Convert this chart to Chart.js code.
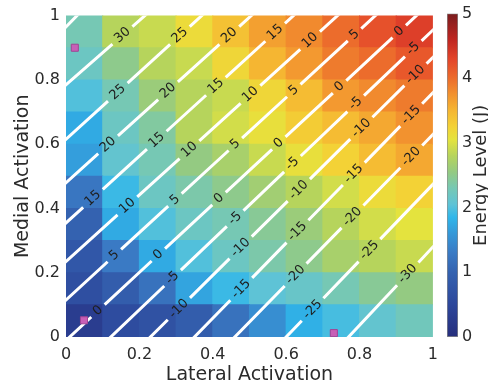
<!DOCTYPE html>
<html>
<head>
<meta charset="utf-8">
<script src="https://cdn.jsdelivr.net/npm/chart.js@4.4.1/dist/chart.umd.min.js"></script>
<style>
    html, body { margin: 0; padding: 0; background: #fff; }
    #wrap { position: relative; width: 488px; height: 388px; overflow: hidden; }
    #heat { position: absolute; left: 0; top: 0; }
    #bar { position: absolute; left: 440px; top: 0; }
</style>
</head>
<body>
<div id="wrap">
    <canvas id="heat" width="446" height="388"></canvas>
    <canvas id="bar" width="48" height="388"></canvas>
</div>
<script>
// Cell edges, 10 bins on each axis
const lateralEdges = [0, 0.1, 0.2, 0.3, 0.4, 0.5, 0.6, 0.7, 0.8, 0.9, 1];
const medialEdges = [0, 0.1, 0.2, 0.3, 0.4, 0.5, 0.6, 0.7, 0.8, 0.9, 1];

// Energy (J) per cell, bottom row first, left to right
const energy = [
    [0.30, 0.60, 0.70, 0.90, 1.20, 1.50, 1.80, 1.95, 2.10, 2.25],
    [0.65, 0.90, 1.20, 1.70, 1.90, 2.05, 2.15, 2.30, 2.45, 2.55],
    [0.80, 1.30, 1.75, 2.00, 2.20, 2.35, 2.50, 2.70, 2.80, 2.90],
    [1.00, 1.75, 2.00, 2.20, 2.30, 2.45, 2.60, 2.80, 2.95, 3.05],
    [1.25, 1.90, 2.20, 2.35, 2.50, 2.65, 2.80, 2.95, 3.15, 3.25],
    [1.65, 2.10, 2.30, 2.55, 2.70, 2.90, 3.10, 3.25, 3.45, 3.60],
    [1.75, 2.20, 2.40, 2.80, 2.95, 3.10, 3.30, 3.45, 3.60, 3.75],
    [2.00, 2.30, 2.60, 2.80, 2.90, 3.20, 3.45, 3.70, 3.80, 3.90],
    [2.20, 2.50, 2.80, 2.90, 3.20, 3.50, 3.70, 3.90, 4.00, 4.15],
    [2.30, 2.80, 2.90, 3.15, 3.40, 3.65, 3.80, 4.00, 4.20, 4.35]
];

// Contour lines: level, start and end point [lateral, medial]
const contourLevels = [35, 30, 25, 20, 15, 10, 5, 0, -5, -10, -15, -20, -25, -30];
const contourFrom = [[0, 0.965], [0, 0.785], [0, 0.615], [0, 0.48], [0, 0.355], [0, 0.235], [0, 0.115],
    [0.01, 0], [0.122, 0], [0.23, 0], [0.35, 0], [0.46, 0], [0.60, 0], [0.77, 0]];
const contourTo = [[0.03, 1], [0.215, 1], [0.37, 1], [0.505, 1], [0.62, 1], [0.74, 1], [0.843, 1],
    [0.955, 1], [1, 0.955], [1, 0.87], [1, 0.76], [1, 0.63], [1, 0.475], [1, 0.28]];

// Contour label positions
const labelLevel = [30, 25, 25, 20, 20, 20, 15, 15, 15, 15, 10, 10, 10, 10,
    5, 5, 5, 5, 5, 0, 0, 0, 0, 0, 0, -5, -5, -5, -5, -5,
    -10, -10, -10, -10, -10, -15, -15, -15, -15, -20, -20, -20, -25, -25, -30];
const labelLateral = [0.159, 0.308, 0.141, 0.443, 0.276, 0.114, 0.570, 0.403, 0.246, 0.073, 0.665, 0.497, 0.341, 0.168,
    0.786, 0.619, 0.462, 0.295, 0.132, 0.903, 0.741, 0.576, 0.416, 0.249, 0.086, 0.943, 0.803, 0.611, 0.465, 0.289,
    0.951, 0.822, 0.632, 0.476, 0.303, 0.938, 0.778, 0.624, 0.476, 0.935, 0.773, 0.619, 0.822, 0.668, 0.930];
const labelMedial = [0.932, 0.941, 0.762, 0.941, 0.769, 0.599, 0.948, 0.787, 0.614, 0.432, 0.923, 0.762, 0.577, 0.407,
    0.941, 0.769, 0.599, 0.429, 0.253, 0.957, 0.784, 0.608, 0.432, 0.259, 0.083, 0.901, 0.710, 0.546, 0.364, 0.185,
    0.818, 0.630, 0.460, 0.278, 0.093, 0.694, 0.515, 0.336, 0.151, 0.568, 0.383, 0.201, 0.275, 0.090, 0.198];

// Marked points
const markerLateral = [0.024, 0.049, 0.73];
const markerMedial = [0.90, 0.052, 0.012];

const xTitle = 'Lateral Activation';
const yTitle = 'Medial Activation';
const barTitle = 'Energy Level (J)';
const energyMin = 0;
const energyMax = 5;

// Colormap (value, colour)
const cmapStops = [
    [0.0, '#262e7c'], [0.5, '#2d479b'], [1.0, '#3462b0'], [1.3, '#3a7ac4'], [1.6, '#3598d8'],
    [1.85, '#2fb6ea'], [2.05, '#5ec3d6'], [2.3, '#76c8b4'], [2.55, '#94ca82'], [2.8, '#b6d45c'],
    [3.05, '#e4e33e'], [3.25, '#f3d236'], [3.5, '#f5b632'], [3.75, '#f2922f'], [4.0, '#ec6c2c'],
    [4.3, '#e3442a'], [4.6, '#bf2621'], [5.0, '#7a1c1e']
];

const textColor = '#2b2b2b';
const fontFamily = '"DejaVu Sans", sans-serif';

function hexToRgb(h) {
    return [parseInt(h.slice(1, 3), 16), parseInt(h.slice(3, 5), 16), parseInt(h.slice(5, 7), 16)];
}

function energyColor(v) {
    if (v <= cmapStops[0][0]) return cmapStops[0][1];
    for (let i = 1; i < cmapStops.length; i++) {
        const [v1, c1] = cmapStops[i];
        if (v <= v1) {
            const [v0, c0] = cmapStops[i - 1];
            const t = (v - v0) / (v1 - v0);
            const a = hexToRgb(c0), b = hexToRgb(c1);
            const mix = a.map((k, j) => Math.round(k + (b[j] - k) * t));
            return `rgb(${mix[0]},${mix[1]},${mix[2]})`;
        }
    }
    return cmapStops[cmapStops.length - 1][1];
}

// 0, 0.2, ... 1 without trailing zeros
const tickText = v => String(Number(v.toFixed(1)));

// One floating-bar dataset per medial row
const rowDatasets = energy.map((row, r) => ({
    type: 'bar',
    data: row.map((v, c) => ({
        x: (lateralEdges[c] + lateralEdges[c + 1]) / 2,
        y: [medialEdges[r], medialEdges[r + 1]]
    })),
    backgroundColor: row.map(energyColor),
    borderWidth: 0,
    borderSkipped: false,
    inflateAmount: 0.5,
    grouped: false,
    barPercentage: 1,
    categoryPercentage: 1
}));

// Draws contour lines with gaps and their labels, just below the markers
const contourPlugin = {
    id: 'contours',
    beforeDatasetDraw(chart, args) {
        if (args.index !== 0) return;
        const { ctx, chartArea, scales: { x, y } } = chart;
        ctx.save();
        ctx.font = '13px ' + fontFamily;
        const pieces = [];
        contourLevels.forEach((level, i) => {
            const x0 = x.getPixelForValue(contourFrom[i][0]);
            const y0 = y.getPixelForValue(contourFrom[i][1]);
            const x1 = x.getPixelForValue(contourTo[i][0]);
            const y1 = y.getPixelForValue(contourTo[i][1]);
            const len = Math.hypot(x1 - x0, y1 - y0);
            const ux = (x1 - x0) / len, uy = (y1 - y0) / len;
            const text = String(level);
            const half = ctx.measureText(text).width / 2 + 5;
            const cuts = [];
            labelLevel.forEach((lv, k) => {
                if (lv !== level) return;
                const px = x.getPixelForValue(labelLateral[k]);
                const py = y.getPixelForValue(labelMedial[k]);
                cuts.push((px - x0) * ux + (py - y0) * uy);
            });
            cuts.sort((a, b) => a - b);
            let s = -4;
            cuts.forEach(t => {
                if (t - half > s) pieces.push([x0 + ux * s, y0 + uy * s, x0 + ux * (t - half), y0 + uy * (t - half)]);
                s = t + half;
            });
            if (s < len + 4) pieces.push([x0 + ux * s, y0 + uy * s, x0 + ux * (len + 4), y0 + uy * (len + 4)]);
            cuts.forEach(t => pieces.push({ text, x: x0 + ux * t, y: y0 + uy * t, angle: Math.atan2(uy, ux) }));
        });

        // lines, clipped to the plot
        ctx.save();
        ctx.beginPath();
        ctx.rect(chartArea.left, chartArea.top, chartArea.right - chartArea.left, chartArea.bottom - chartArea.top);
        ctx.clip();
        ctx.strokeStyle = '#ffffff';
        ctx.lineWidth = 3;
        ctx.lineCap = 'butt';
        ctx.beginPath();
        pieces.filter(p => Array.isArray(p)).forEach(p => {
            ctx.moveTo(p[0], p[1]);
            ctx.lineTo(p[2], p[3]);
        });
        ctx.stroke();
        ctx.restore();

        // labels
        ctx.fillStyle = '#1e1e1e';
        ctx.textAlign = 'center';
        ctx.textBaseline = 'middle';
        pieces.filter(p => !Array.isArray(p)).forEach(p => {
            ctx.save();
            ctx.translate(p.x, p.y);
            ctx.rotate(p.angle);
            ctx.fillText(p.text, 0, 0);
            ctx.restore();
        });
        ctx.restore();
    }
};

new Chart(document.getElementById('heat'), {
    type: 'bar',
    data: {
        datasets: [{
            type: 'scatter',
            data: markerLateral.map((l, i) => ({ x: l, y: markerMedial[i] })),
            pointStyle: 'rect',
            pointRadius: 5,
            backgroundColor: '#c85fb6',
            borderColor: '#a04494',
            borderWidth: 1
        }, ...rowDatasets]
    },
    options: {
        responsive: false,
        animation: false,
        layout: { padding: { top: 13, right: 10, left: 0, bottom: 0 } },
        plugins: { legend: { display: false }, tooltip: { enabled: false } },
        scales: {
            x: {
                type: 'linear', min: 0, max: 1, offset: false,
                ticks: { stepSize: 0.2, padding: 8, color: textColor, font: { family: fontFamily, size: 16 }, callback: tickText },
                grid: { display: false, drawTicks: false, offset: false },
                border: { display: false },
                title: { display: true, text: xTitle, color: textColor, font: { family: fontFamily, size: 19 }, padding: { top: 0, bottom: 2 } },
                afterFit(scale) { scale.height = 51; }
            },
            y: {
                type: 'linear', min: 0, max: 1,
                ticks: { stepSize: 0.2, padding: 6, color: textColor, font: { family: fontFamily, size: 16 }, callback: tickText },
                grid: { display: false, drawTicks: false },
                border: { display: false },
                title: { display: true, text: yTitle, color: textColor, font: { family: fontFamily, size: 19 }, padding: { top: 12, bottom: 0 } },
                afterFit(scale) { scale.width = 66; }
            }
        }
    },
    plugins: [contourPlugin]
});

// Colourbar title reads bottom to top
const barTitlePlugin = {
    id: 'barTitle',
    afterDraw(chart) {
        const { ctx, chartArea } = chart;
        ctx.save();
        ctx.translate(chart.width - 7, (chartArea.top + chartArea.bottom) / 2);
        ctx.rotate(-Math.PI / 2);
        ctx.font = '18px ' + fontFamily;
        ctx.fillStyle = textColor;
        ctx.textAlign = 'center';
        ctx.textBaseline = 'middle';
        ctx.fillText(barTitle, 0, 0);
        ctx.restore();
    }
};

new Chart(document.getElementById('bar'), {
    type: 'bar',
    data: {
        labels: [''],
        datasets: [{
            data: [[energyMin, energyMax]],
            backgroundColor(c) {
                const area = c.chart.chartArea;
                if (!area) return '#888';
                const g = c.chart.ctx.createLinearGradient(0, area.bottom, 0, area.top);
                cmapStops.forEach(([v, col]) => g.addColorStop((v - energyMin) / (energyMax - energyMin), col));
                return g;
            },
            borderColor: 'rgba(90,90,90,0.7)',
            borderWidth: 1,
            borderSkipped: false,
            barPercentage: 1,
            categoryPercentage: 1
        }]
    },
    options: {
        responsive: false,
        animation: false,
        layout: { padding: { top: 13, right: 0, left: 7, bottom: 51 } },
        plugins: { legend: { display: false }, tooltip: { enabled: false } },
        scales: {
            x: { display: false },
            y: {
                position: 'right', min: energyMin, max: energyMax,
                ticks: { stepSize: 1, padding: 4, color: textColor, font: { family: fontFamily, size: 16 } },
                grid: { display: false, drawTicks: false },
                border: { display: false },
                afterFit(scale) { scale.width = 30; }
            }
        }
    },
    plugins: [barTitlePlugin]
});
</script>
</body>
</html>
